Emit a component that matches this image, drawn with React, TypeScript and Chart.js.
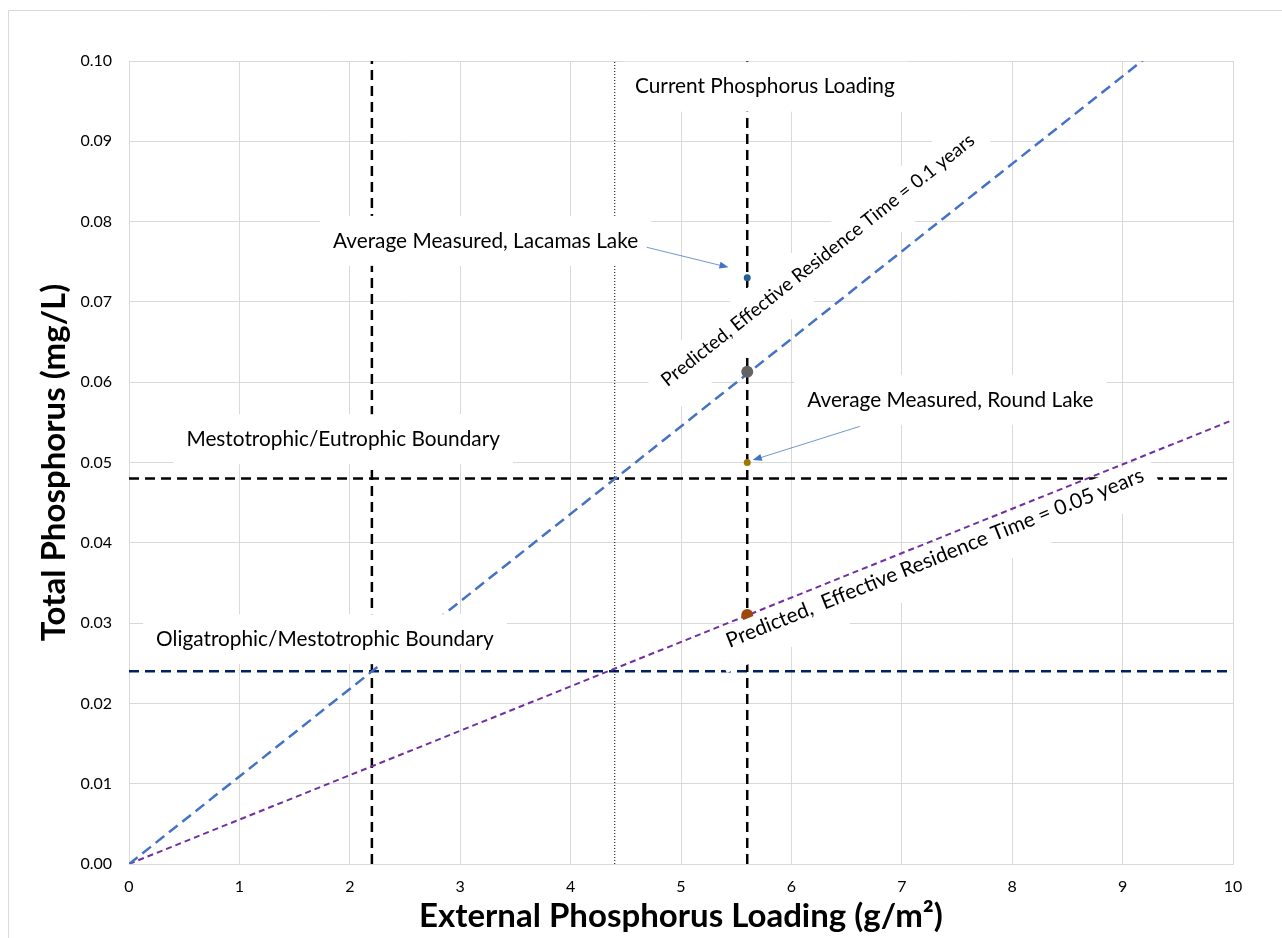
import React, { useEffect, useRef } from "react";
import { Chart, registerables } from "chart.js";

Chart.register(...registerables);

// ---------- data ----------
const predicted01X = [0, 10];
const predicted01Y = [0, 0.109];
const predicted005X = [0, 10];
const predicted005Y = [0, 0.0553];

const currentLoadingX = [5.6, 5.6];
const lowLoadingX = [2.2, 2.2];
const midLoadingX = [4.4, 4.4];
const verticalSpanY = [0, 0.1];

const boundarySpanX = [0, 10];
const eutrophicBoundaryY = [0.048, 0.048];
const oligotrophicBoundaryY = [0.024, 0.024];

const lacamasMeasured = { x: 5.6, y: 0.073 };
const roundMeasured = { x: 5.6, y: 0.05 };
const lacamasPredicted = { x: 5.6, y: 0.0613 };
const roundPredicted = { x: 5.6, y: 0.031 };

const xTickMin = 0;
const xTickMax = 10;
const yTickMin = 0;
const yTickMax = 0.1;

const xTitle = "External Phosphorus Loading (g/m²)";
const yTitle = "Total Phosphorus (mg/L)";

// annotation texts (placed in data units)
const boxLabels = [
  { text: "Current Phosphorus Loading", x: 5.76, y: 0.0968 },
  { text: "Average Measured, Lacamas Lake", x: 3.23, y: 0.0776 },
  { text: "Mestotrophic/Eutrophic Boundary", x: 1.94, y: 0.0529 },
  { text: "Oligatrophic/Mestotrophic Boundary", x: 1.775, y: 0.0280 },
  { text: "Average Measured, Round Lake", x: 7.44, y: 0.0578 },
];
const lineLabels = [
  { text: "Predicted, Effective Residence Time = 0.1 years", x: 6.24, y: 0.0752, lineX: predicted01X, lineY: predicted01Y, size: 19, boxTop: -22, boxBottom: 30 },
  { text: "Predicted,  Effective Residence Time = 0.05 years", x: 7.3, y: 0.0381, lineX: predicted005X, lineY: predicted005Y, size: 20.8, boxTop: -14, boxBottom: 29 },
];
const arrows = [
  { fromX: 4.69, fromY: 0.0768, toX: 5.43, toY: 0.0743 },
  { fromX: 6.62, fromY: 0.0545, toX: 5.65, toY: 0.0503 },
];

const FONT = "Lato, 'Open Sans', sans-serif";

const pairs = (xs: number[], ys: number[]) => xs.map((x, i) => ({ x, y: ys[i] }));

const annotate = {
  id: "annotate",
  beforeDraw(chart: any) {
    const { ctx, width, height } = chart;
    ctx.save();
    ctx.fillStyle = "#ffffff";
    ctx.fillRect(0, 0, width, height);
    ctx.strokeStyle = "#d9d9d9";
    ctx.lineWidth = 1;
    ctx.beginPath();
    ctx.moveTo(8.5, height);
    ctx.lineTo(8.5, 10.5);
    ctx.lineTo(width, 10.5);
    ctx.stroke();
    ctx.restore();
  },
  afterDatasetsDraw(chart: any) {
    const { ctx } = chart;
    const xs = chart.scales.x;
    const ys = chart.scales.y;
    ctx.save();
    ctx.font = `20.8px ${FONT}`;
    ctx.textAlign = "center";
    ctx.textBaseline = "middle";
    for (const l of boxLabels) {
      const cx = xs.getPixelForValue(l.x);
      const cy = ys.getPixelForValue(l.y);
      const w = ctx.measureText(l.text).width + 26;
      const h = 50;
      ctx.fillStyle = "#ffffff";
      ctx.fillRect(cx - w / 2, cy - h / 2, w, h);
      ctx.fillStyle = "#000000";
      ctx.fillText(l.text, cx, cy);
    }
    for (const l of lineLabels) {
      const cx = xs.getPixelForValue(l.x);
      const cy = ys.getPixelForValue(l.y);
      const dx = xs.getPixelForValue(l.lineX[1]) - xs.getPixelForValue(l.lineX[0]);
      const dy = ys.getPixelForValue(l.lineY[1]) - ys.getPixelForValue(l.lineY[0]);
      const ang = Math.atan2(dy, dx);
      ctx.save();
      ctx.font = `${l.size}px ${FONT}`;
      ctx.translate(cx, cy);
      ctx.rotate(ang);
      const w = ctx.measureText(l.text).width + 24;
      ctx.fillStyle = "#ffffff";
      ctx.fillRect(-w / 2, l.boxTop, w, l.boxBottom - l.boxTop);
      ctx.fillStyle = "#000000";
      ctx.fillText(l.text, 0, 0);
      ctx.restore();
    }
    ctx.strokeStyle = "#4472c4";
    ctx.fillStyle = "#4472c4";
    ctx.lineWidth = 0.75;
    for (const a of arrows) {
      const x1 = xs.getPixelForValue(a.fromX);
      const y1 = ys.getPixelForValue(a.fromY);
      const x2 = xs.getPixelForValue(a.toX);
      const y2 = ys.getPixelForValue(a.toY);
      const ang = Math.atan2(y2 - y1, x2 - x1);
      ctx.beginPath();
      ctx.moveTo(x1, y1);
      ctx.lineTo(x2 - 6 * Math.cos(ang), y2 - 6 * Math.sin(ang));
      ctx.stroke();
      const L = 9, Wd = 3.5;
      ctx.beginPath();
      ctx.moveTo(x2, y2);
      ctx.lineTo(x2 - L * Math.cos(ang) - Wd * Math.sin(ang), y2 - L * Math.sin(ang) + Wd * Math.cos(ang));
      ctx.lineTo(x2 - L * Math.cos(ang) + Wd * Math.sin(ang), y2 - L * Math.sin(ang) - Wd * Math.cos(ang));
      ctx.closePath();
      ctx.fill();
    }
    ctx.restore();
  },
};

export default function App() {
  const ref = useRef<HTMLCanvasElement | null>(null);
  useEffect(() => {
    if (!ref.current) return;
    const lineBase = { showLine: true, pointRadius: 0, pointHoverRadius: 0, fill: false, tension: 0 };
    const chart = new Chart(ref.current, {
      type: "scatter",
      data: {
        datasets: [
          { ...lineBase, label: "Predicted 0.1", data: pairs(predicted01X, predicted01Y), borderColor: "#4472c4", borderWidth: 2.5, borderDash: [11, 6], order: 5 },
          { ...lineBase, label: "Predicted 0.05", data: pairs(predicted005X, predicted005Y), borderColor: "#7030a0", borderWidth: 2, borderDash: [6, 4], order: 5 },
          { ...lineBase, label: "Current loading", data: pairs(currentLoadingX, verticalSpanY), borderColor: "#000000", borderWidth: 2.5, borderDash: [10, 6], order: 6 },
          { ...lineBase, label: "Loading 2.2", data: pairs(lowLoadingX, verticalSpanY), borderColor: "#000000", borderWidth: 2.5, borderDash: [10, 6], order: 6 },
          { ...lineBase, label: "Loading 4.4", data: pairs(midLoadingX, verticalSpanY), borderColor: "#000000", borderWidth: 1, borderDash: [1, 2], order: 6 },
          { ...lineBase, label: "Eutrophic", data: pairs(boundarySpanX, eutrophicBoundaryY), borderColor: "#000000", borderWidth: 2.5, borderDash: [10, 6], order: 6 },
          { ...lineBase, label: "Oligotrophic", data: pairs(boundarySpanX, oligotrophicBoundaryY), borderColor: "#002060", borderWidth: 2.5, borderDash: [10, 6], order: 6 },
          { label: "Lacamas measured", data: [lacamasMeasured], pointRadius: 3.5, backgroundColor: "#255e91", borderColor: "#255e91", borderWidth: 0, order: 1 },
          { label: "Round measured", data: [roundMeasured], pointRadius: 3.5, backgroundColor: "#a07800", borderColor: "#a07800", borderWidth: 0, order: 1 },
          { label: "Lacamas predicted", data: [lacamasPredicted], pointRadius: 6, backgroundColor: "#636363", borderColor: "#636363", borderWidth: 0, order: 1 },
          { label: "Round predicted", data: [roundPredicted], pointRadius: 6, backgroundColor: "#9e480e", borderColor: "#9e480e", borderWidth: 0, order: 1 },
        ],
      },
      options: {
        animation: false,
        responsive: false,
        events: [],
        layout: { padding: { left: 0, top: 61, right: 49, bottom: 0 } },
        plugins: { legend: { display: false }, tooltip: { enabled: false } },
        scales: {
          x: {
            type: "linear",
            min: xTickMin,
            max: xTickMax,
            afterFit: (s: any) => { s.height = 74; },
            grid: { color: "#d9d9d9", lineWidth: 1, drawTicks: false },
            border: { color: "#d9d9d9" },
            ticks: { stepSize: 1, padding: 13, color: "#000000", font: { family: FONT, size: 16 } },
            title: { display: true, text: xTitle, color: "#000000", font: { family: FONT, size: 33, weight: "bold" }, padding: { top: 0, bottom: 2 } },
          },
          y: {
            type: "linear",
            min: yTickMin,
            max: yTickMax,
            afterFit: (s: any) => { s.width = 129; },
            grid: { color: "#d9d9d9", lineWidth: 1, drawTicks: false },
            border: { color: "#d9d9d9" },
            ticks: { stepSize: 0.01, padding: 17, color: "#000000", font: { family: FONT, size: 16 }, callback: (v: any) => Number(v).toFixed(2) },
            title: { display: true, text: yTitle, color: "#000000", font: { family: FONT, size: 33, weight: "bold" }, padding: { top: 35, bottom: 0 } },
          },
        },
      },
      plugins: [annotate],
    } as any);
    return () => chart.destroy();
  }, []);
  return (
    <div style={{ position: "fixed", left: 0, top: 0, width: 1282, height: 938, overflow: "hidden" }}>
      <canvas ref={ref} width={1282} height={938} style={{ display: "block" }} />
    </div>
  );
}
